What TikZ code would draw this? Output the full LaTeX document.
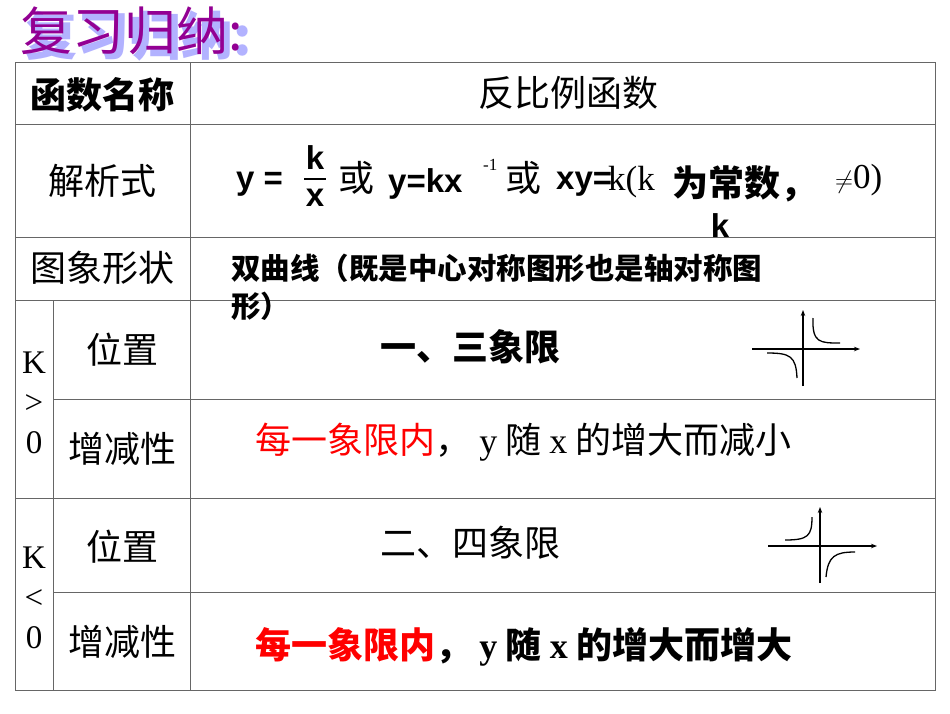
\documentclass[tikz,border=0pt]{standalone}
\usepackage{fontspec}
\usetikzlibrary{arrows.meta}
\setmainfont{Liberation Serif}
\newfontfamily\cjk{Noto Sans CJK SC}
\newfontfamily\arsans{Liberation Sans}
\begin{document}
\begin{tikzpicture}[x=1pt,y=-1pt,
  cell/.style={font=\cjk\fontsize{36}{40}\selectfont,inner sep=0pt},
  bcell/.style={font=\cjk\bfseries\fontsize{36}{40}\selectfont,inner sep=0pt},
  lat/.style={font=\arsans\bfseries\fontsize{33}{36}\selectfont,inner sep=0pt},
  ser/.style={font=\fontsize{35}{38}\selectfont,inner sep=0pt},
  grid/.style={draw=black!60,line width=1pt},
  ax/.style={line width=1.3pt,-{Stealth[length=6pt]}},
  cv/.style={line width=1.3pt}]
\useasboundingbox (0,0) rectangle (950,713);
\fill[white] (0,0) rectangle (950,713);
% title
\node[anchor=west,inner sep=0pt,text=blue!30!white,font=\cjk\bfseries\fontsize{52}{56}\selectfont] (tsh) at (25,36) {复习归纳:};
\node[anchor=west,inner sep=0pt,text=violet!85!magenta,font=\cjk\fontsize{52}{56}\selectfont] (title) at (20,31) {复习归纳:};
% grid
\draw[grid] (15,62) rectangle (935,690);
\foreach \y in {124,237,300,498} \draw[grid] (15,\y) -- (935,\y);
\foreach \y in {399,592} \draw[grid] (53,\y) -- (935,\y);
\draw[grid] (190,62) -- (190,690);
\draw[grid] (53,300) -- (53,690);
% texts
\node[bcell] (h1) at (102,95) {函数名称};
\node[cell] (h2) at (568,93) {反比例函数};
\node[cell] (r1) at (102,181) {解析式};
\node[lat,anchor=west] (f1) at (236,184) {y = };
\node[lat] (fk) at (315,158) {k};
\node[lat] (fx) at (315,198) {x};
\draw[line width=1.5pt] (304,179) -- (326,179);
\node[cell,anchor=west] (f2) at (338,178) {或};
\node[lat,anchor=west] (f3) at (388,184) {y=kx};
\node[font=\fontsize{17}{18}\selectfont,inner sep=0pt,anchor=west] (f4) at (483,165) {-1};
\node[cell,anchor=west] (f5) at (505,178) {或};
\node[lat,anchor=west] (f6) at (556,184) {xy=};
\node[ser,anchor=west] (f7) at (608,182) {k(k};
\node[bcell,anchor=west] (f8) at (672,184) {为常数，};
\node[ser,anchor=west] (f9) at (835,180) {$\neq$0)};
\node[lat] (f10) at (720,226) {k};
\node[cell] (r2) at (102,268) {图象形状};
\node[font=\cjk\bfseries\fontsize{29.5}{38}\selectfont,anchor=north west,align=left,inner sep=0pt] (r2t) at (231,254) {双曲线（既是中心对称图形也是轴对称图\\形）};
% K>0
\node[font=\fontsize{33}{40}\selectfont,align=center,inner sep=0pt] (kp) at (34,403) {K\\>\\0};
\node[cell] (p1) at (122,350) {位置};
\node[bcell] (p1t) at (470,347) {一、三象限};
\node[cell] (p2) at (122,449) {增减性};
\node[cell,anchor=west] (p2t) at (255,442) {\textcolor{red}{每一象限内}，\ \textrm{y}\ 随\ \textrm{x}\ 的增大而减小};
\node[cell] (n1) at (122,547) {位置};
\node[cell] (n1t) at (470,543) {二、四象限};
\node[cell] (n2) at (122,642) {增减性};
\node[bcell,anchor=west] (n2t) at (255,647) {\textcolor{red}{每一象限内}，\ \textrm{y}\ 随\ \textrm{x}\ 的增大而增大};
\node[font=\fontsize{33}{40}\selectfont,align=center,inner sep=0pt] (kn) at (34,598) {K\\<\\0};
% graph 1
\coordinate (a1) at (752,349); \coordinate (a2) at (860,349);
\coordinate (b1) at (803,386); \coordinate (b2) at (803,310);
\draw[ax] (a1) -- (a2); \draw[ax] (b1) -- (b2);
\draw[cv] (813,318) .. controls (812,343) and (820,343) .. (840,343);
\draw[cv] (767,353) .. controls (790,353) and (796,356) .. (797,378);
% graph 2
\coordinate (c1) at (768,546); \coordinate (c2) at (877,546);
\coordinate (d1) at (820,583); \coordinate (d2) at (820,507);
\draw[ax] (c1) -- (c2); \draw[ax] (d1) -- (d2);
\draw[cv] (785,540) .. controls (808,540) and (812,536) .. (812,517);
\draw[cv] (826,577) .. controls (828,556) and (835,552) .. (855,552);
\end{tikzpicture}
\end{document}
